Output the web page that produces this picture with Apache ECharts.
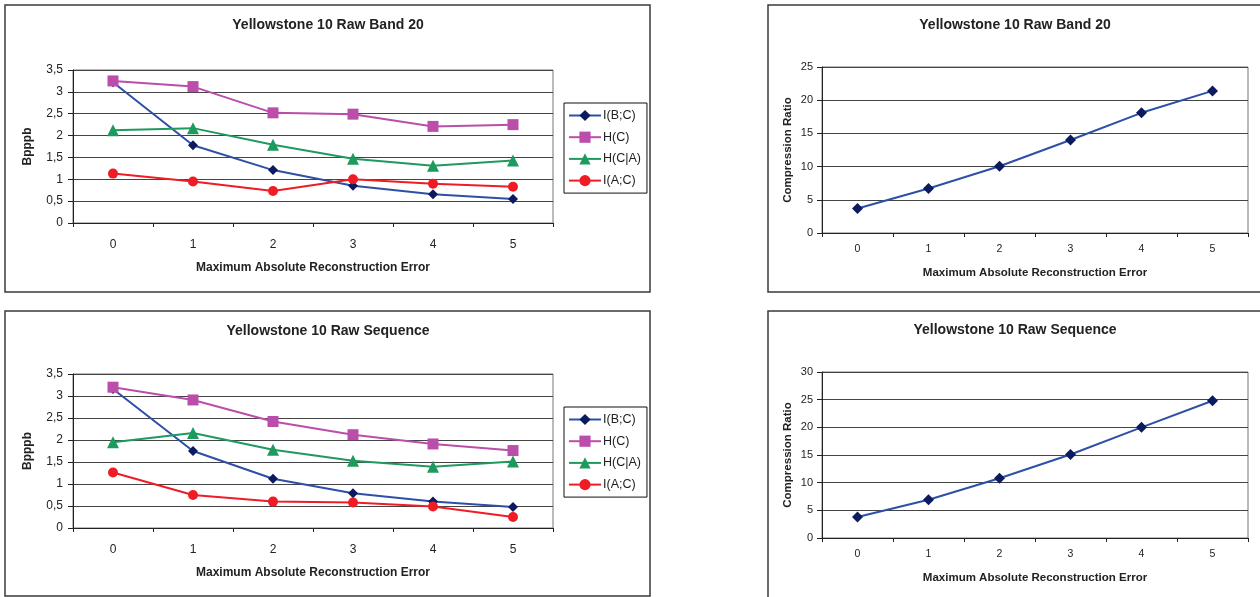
<!DOCTYPE html>
<html>
<head>
<meta charset="utf-8">
<script src="https://cdn.jsdelivr.net/npm/echarts@6/dist/echarts.min.js"></script>
<style>
html,body{margin:0;padding:0;background:#fff;}
#c{width:1260px;height:597px;}
</style>
</head>
<body>
<div id="c"></div>
<script>
// ---- data ----
var categories = ['0', '1', '2', '3', '4', '5'];
var seriesNames = ['I(B;C)', 'H(C)', 'H(C|A)', 'I(A;C)'];
var bandIBC = [3.22, 1.78, 1.21, 0.85, 0.66, 0.55];
var bandHC  = [3.25, 3.12, 2.52, 2.49, 2.21, 2.25];
var bandHCA = [2.12, 2.17, 1.79, 1.47, 1.31, 1.43];
var bandIAC = [1.13, 0.95, 0.73, 1.00, 0.90, 0.83];
var seqIBC  = [3.16, 1.75, 1.12, 0.79, 0.60, 0.48];
var seqHC   = [3.20, 2.91, 2.42, 2.12, 1.91, 1.76];
var seqHCA  = [1.95, 2.16, 1.78, 1.53, 1.39, 1.51];
var seqIAC  = [1.26, 0.75, 0.60, 0.58, 0.49, 0.25];
var bandCR  = [3.7, 6.7, 10.05, 14.0, 18.1, 21.4];
var seqCR   = [3.8, 6.9, 10.8, 15.1, 20.0, 24.8];
var titles = ['Yellowstone 10 Raw Band 20', 'Yellowstone 10 Raw Sequence'];
var xName = 'Maximum Absolute Reconstruction Error';

var FONT = '"Liberation Sans", Arial, sans-serif';
var lineColors = ['#2D4FA6', '#BA4EAA', '#1E9A5E', '#EE1D25'];
var markColors = ['#0C1A5E', '#BA4EAA', '#1E9A5E', '#EE1D25'];
var symbols = ['diamond', 'rect', 'triangle', 'circle'];
var symSizes = [10, 11, 12, 10];

var chart = echarts.init(document.getElementById('c'), null, {renderer: 'canvas'});

var grids = [
  {left: 73, top: 70, width: 480, height: 153},
  {left: 73, top: 374, width: 480, height: 154},
  {left: 822, top: 67, width: 426, height: 166},
  {left: 822, top: 372, width: 426, height: 166}
];
grids.forEach(function (g) { g.show = true; g.borderColor = '#777'; g.borderWidth = 1; g.backgroundColor = 'transparent'; });

function xAxis(i, small) {
  return {
    type: 'category', gridIndex: i, data: categories, boundaryGap: true,
    axisLine: {lineStyle: {color: '#222', width: 1}},
    axisTick: {show: true, inside: false, length: 4, lineStyle: {color: '#222'}},
    axisLabel: {color: '#222', fontFamily: FONT, fontSize: small ? 10.5 : 12, margin: small ? 11 : 16},
    name: xName, nameLocation: 'middle', nameGap: small ? 34 : 39,
    nameTextStyle: {color: '#222', fontFamily: FONT, fontWeight: 'bold', fontSize: small ? 11.5 : 12}
  };
}
function yAxis(i, max, name, small) {
  return {
    type: 'value', gridIndex: i, min: 0, max: max, interval: small ? 5 : 0.5,
    axisLine: {show: true, lineStyle: {color: '#222', width: 1}},
    axisTick: {show: true, inside: false, length: 5, lineStyle: {color: '#222'}},
    splitLine: {show: true, lineStyle: {color: '#444', width: 1}},
    axisLabel: {color: '#222', fontFamily: FONT, fontSize: small ? 11 : 12, margin: small ? 9 : 10,
      formatter: function (v) { return String(v).replace('.', ','); }},
    name: name, nameLocation: 'middle', nameRotate: 90, nameGap: small ? 28 : 39,
    nameTextStyle: {color: '#222', fontFamily: FONT, fontWeight: 'bold', fontSize: small ? 11.5 : 12}
  };
}

var series = [];
[[bandIBC, bandHC, bandHCA, bandIAC], [seqIBC, seqHC, seqHCA, seqIAC]].forEach(function (set, gi) {
  set.forEach(function (arr, k) {
    series.push({
      type: 'line', name: seriesNames[k], xAxisIndex: gi, yAxisIndex: gi, data: arr,
      symbol: symbols[k], symbolSize: symSizes[k], showSymbol: true,
      lineStyle: {color: lineColors[k], width: 2},
      itemStyle: {color: markColors[k], borderWidth: 0},
      emphasis: {disabled: true}, animation: false
    });
  });
});
[bandCR, seqCR].forEach(function (arr, j) {
  series.push({
    type: 'line', name: 'Compression Ratio', xAxisIndex: 2 + j, yAxisIndex: 2 + j, data: arr,
    symbol: 'diamond', symbolSize: 11,
    lineStyle: {color: '#2D4FA6', width: 2},
    itemStyle: {color: '#0C1A5E', borderWidth: 0},
    emphasis: {disabled: true}, animation: false
  });
});

function legend(top) {
  return {
    data: seriesNames, orient: 'vertical', left: 564, top: top,
    width: 83, padding: [6, 6, 6, 4], itemGap: 8.7, itemWidth: 32, itemHeight: 14,
    borderColor: '#111', borderWidth: 1, backgroundColor: '#fff',
    textStyle: {color: '#222', fontFamily: FONT, fontSize: 12.5, padding: [0, 0, 0, -3]},
    selectedMode: false
  };
}

function panelRect(x, y, w, h) {
  return {type: 'rect', shape: {x: x, y: y, width: w, height: h}, silent: true, z: -10,
    style: {fill: '#fff', stroke: '#3a3a3a', lineWidth: 1.5}};
}
function titleText(x, y, t) {
  return {type: 'text', x: x, y: y, silent: true, z: 10,
    style: {text: t, fill: '#222', font: 'bold 14px ' + FONT, textAlign: 'center', textVerticalAlign: 'middle'}};
}

chart.setOption({
  animation: false,
  backgroundColor: '#fff',
  grid: grids,
  xAxis: [xAxis(0, false), xAxis(1, false), xAxis(2, true), xAxis(3, true)],
  yAxis: [yAxis(0, 3.5, 'Bpppb', false), yAxis(1, 3.5, 'Bpppb', false),
          yAxis(2, 25, 'Compression Ratio', true), yAxis(3, 30, 'Compression Ratio', true)],
  legend: [legend(103), legend(407)],
  series: series,
  graphic: [
    panelRect(5, 5, 645, 287),
    panelRect(5, 311, 645, 285),
    panelRect(768, 5, 520, 287),
    panelRect(768, 311, 520, 300),
    titleText(328, 25, titles[0]),
    titleText(328, 331, titles[1]),
    titleText(1015, 25, titles[0]),
    titleText(1015, 330, titles[1])
  ]
});
</script>
</body>
</html>
